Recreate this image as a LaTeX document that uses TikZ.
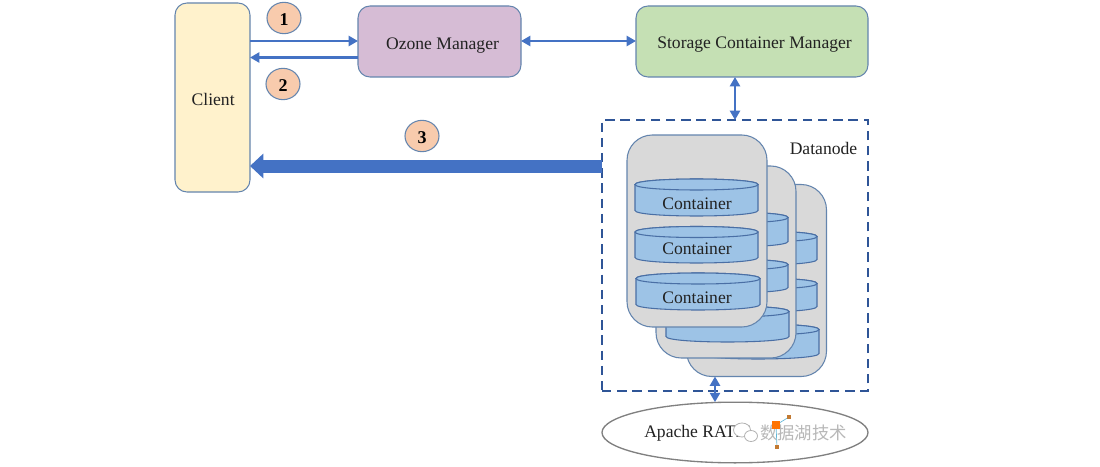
\documentclass[tikz,border=0pt]{standalone}
\usepackage{fontspec}
\setmainfont{Liberation Serif}
\newfontfamily\cjkwm{Noto Sans CJK SC}
\usetikzlibrary{arrows.meta,shapes.geometric}
\definecolor{edgeb}{HTML}{6485AE}
\definecolor{arrowb}{HTML}{4472C4}
\definecolor{dashb}{HTML}{2F5597}
\definecolor{cylb}{HTML}{4A6FA5}
\definecolor{cylf}{HTML}{9DC3E6}
\definecolor{ink}{HTML}{222222}
\definecolor{badgec}{HTML}{F8CBAD}
\definecolor{clientc}{HTML}{FFF2CC}
\definecolor{omc}{HTML}{D6BCD5}
\definecolor{scmc}{HTML}{C5E0B4}
\definecolor{cardc}{HTML}{D9D9D9}
\tikzset{
  box/.style={draw=edgeb,line width=.8pt,rounded corners=9pt,inner sep=0pt,outer sep=0pt,text=ink,font=\fontsize{13.2}{15}\selectfont},
  card/.style={draw=edgeb,line width=.8pt,fill=cardc,rounded corners=19pt,inner sep=0pt,outer sep=0pt,minimum width=105pt,minimum height=144pt},
  badge/.style={ellipse,draw=edgeb,line width=.8pt,fill=badgec,inner sep=0pt,outer sep=0pt,minimum width=25.5pt,minimum height=23.5pt,text=black,font=\fontsize{13.5}{15}\selectfont\bfseries},
  thin arrow/.style={draw=arrowb,line width=1.8pt,-{Triangle[length=7pt,width=7.5pt]}},
  both arrow/.style={draw=arrowb,line width=1.8pt,{Triangle[length=7pt,width=7.5pt]}-{Triangle[length=7pt,width=7.5pt]}},
  fat arrow/.style={draw=arrowb,line width=9.75pt,-{Triangle[length=10pt,width=18pt]}},
  cyl/.style={draw=cylb,line width=.8pt,fill=cylf},
  label text/.style={inner sep=0pt,text=ink,font=\fontsize{13.2}{15}\selectfont},
}
\newcommand{\cylshape}[4]{% left right top bottom
  \draw[cyl] ({#1},{#3+5.5}) .. controls ({#1},{#3-1.83}) and ({#2},{#3-1.83}) .. ({#2},{#3+5.5})
    -- ({#2},{#4-5.5}) .. controls ({#2},{#4+1.83}) and ({#1},{#4+1.83}) .. ({#1},{#4-5.5}) -- cycle;
  \draw[cyl] ({#1},{#3+5.5}) .. controls ({#1},{#3-1.83}) and ({#2},{#3-1.83}) .. ({#2},{#3+5.5})
    .. controls ({#2},{#3+12.83}) and ({#1},{#3+12.83}) .. ({#1},{#3+5.5}) -- cycle;
}
% text set off-centre inside a box: dx (doubled), raise, text
\newcommand{\offtext}[3]{\raisebox{#2}[0pt][0pt]{\makebox[0pt]{\kern#1 #3}}}
\begin{document}
\begin{tikzpicture}[x=.75pt,y=-.75pt]
\useasboundingbox[fill=white] (0,0) rectangle (1100,467);

% main boxes
\node[box,fill=clientc,minimum width=56.25pt,minimum height=141.75pt] (client) at (212.5,97.5) {\offtext{1pt}{-6pt}{Client}};
\node[box,fill=omc,minimum width=122.25pt,minimum height=53.25pt] (om) at (439.5,41.5) {\offtext{4.5pt}{-6pt}{Ozone Manager}};
\node[box,fill=scmc,minimum width=174pt,minimum height=53.25pt] (scm) at (752,41.5) {\offtext{3.8pt}{-5.25pt}{Storage Container Manager}};

% datanode frame
\node[draw=dashb,line width=2.1pt,dash pattern=on 7pt off 4.4pt,inner sep=0pt,outer sep=0pt,minimum width=199.5pt,minimum height=203.25pt] (dn) at (735,255.5) {};
\node[label text] (dnlabel) at (823.5,148) {Datanode};

% third card
\node[card] (card3) at (756.5,280.5) {};
\cylshape{697}{817}{231}{265}
\cylshape{697}{817}{278}{312}
\cylshape{697}{819}{324}{359}
% second card
\node[card] (card2) at (726,262) {};
\cylshape{666}{788}{212}{247}
\cylshape{666}{788}{259}{293}
\cylshape{666}{789}{306}{342}
% front card
\node[card] (card1) at (697,231) {};
\cylshape{635}{758}{179}{216}
\cylshape{635}{758}{226.5}{263}
\cylshape{636}{760}{273}{310}
\node[label text] (c1) at (697,204) {Container};
\node[label text] (c2) at (697,248.5) {Container};
\node[label text] (c3) at (697,297.5) {Container};

% ratis ellipse
\node[ellipse,draw=black!50,line width=1pt,fill=white,inner sep=0pt,outer sep=0pt,minimum width=199.5pt,minimum height=45.5pt,text=ink] (ratis) at (735,432.5) {};
\node[label text,anchor=west] (ratistext) at (644,433) {Apache RATIS};

% badges
\node[badge] (b1) at (284,18) {\offtext{0pt}{-6pt}{1}};
\node[badge] (b2) at (283,84) {\offtext{0pt}{-5.5pt}{2}};
\node[badge] (b3) at (422,136) {\offtext{0pt}{-5.5pt}{3}};

% connectors
\coordinate (ya) at (300,41);
\coordinate (yb) at (300,57.5);
\coordinate (yc) at (300,166);
\coordinate (xa) at (735,100);
\coordinate (xb) at (715,400);
\draw[thin arrow] (client.east |- ya) -- (om.west |- ya);
\draw[thin arrow] (om.west |- yb) -- (client.east |- yb);
\draw[both arrow] (om.east |- ya) -- (scm.west |- ya);
\draw[both arrow] (scm.south -| xa) -- (dn.north -| xa);
\draw[both arrow] (card3.south -| xb) -- (ratis.north -| xb);
\draw[fat arrow] (dn.west |- yc) -- (client.east |- yc);

% watermark
\node[inner sep=0pt,text=black!28,font=\cjkwm\fontsize{13}{15}\selectfont,anchor=west] (wm) at (760,433) {数据湖技术};
\draw[black!30,line width=.6pt,fill=white] (742,430) ellipse [x radius=8.5,y radius=7];
\draw[black!30,line width=.6pt,fill=white] (751,436) ellipse [x radius=6.5,y radius=5.5];
\draw[cyan!60!teal!70,line width=.5pt] (789,417) -- (776,425) -- (777,447);
\fill[orange!90!red] (772,421) rectangle (780,429);
\fill[orange!70!black!80] (787,415) rectangle (791,419);
\fill[orange!70!black!80] (775,445) rectangle (779,449);
\end{tikzpicture}
\end{document}
